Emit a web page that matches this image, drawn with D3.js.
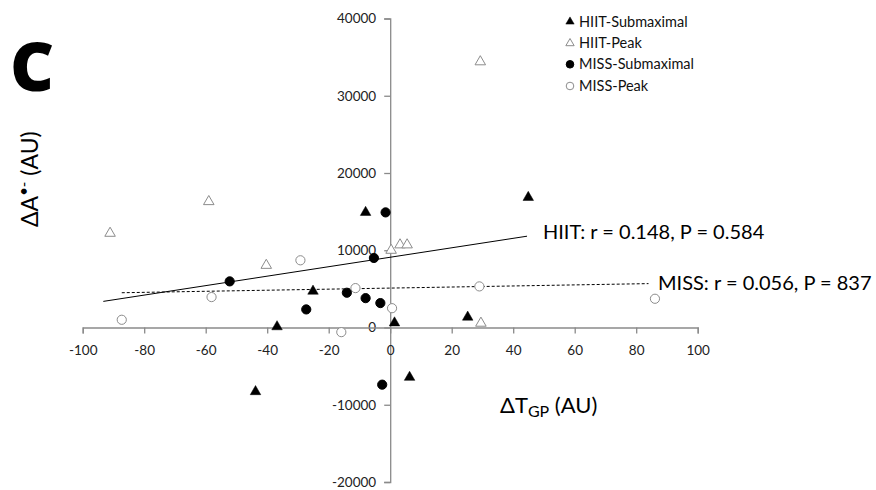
<!DOCTYPE html>
<html lang="en">
<head>
<meta charset="UTF-8">
<title>Delta A vs Delta TGP</title>
<script src="https://d3js.org/d3.v7.min.js"></script>
<style>
    body { margin: 0; background: #fff; }
    text { font-family: Lato, "Open Sans", sans-serif; }
</style>
</head>
<body>
<div id="chart"></div>
<script>
    // values: [ΔTGP, ΔA]
    const hiitSub = [[-43.8, -8300], [-36.8, 100], [-25.1, 4700], [-8, 14900],
                     [1.4, 600], [6.3, -6450], [25.2, 1340], [44.9, 16840]];
    const hiitPeak = [[-91.1, 12200], [-59, 16300], [-40.3, 8050], [0.3, 10000],
                      [3.2, 10700], [5.5, 10700], [29.5, 560], [29.3, 34400]];
    const missSub = [[-52.2, 5970], [-27.3, 2340], [-14.1, 4500], [-8, 3800],
                     [-5.3, 9000], [-3.2, 3160], [-1.5, 14900], [-2.6, -7400]];
    const missPeak = [[-87.3, 1000], [-58.1, 3940], [-29.2, 8700], [-15.9, -600],
                      [-11.3, 5100], [0.6, 2500], [29, 5320], [86.1, 3720]];

    // trend line end points
    const hiitFit = [[-93.3, 3380], [44.5, 11820]];
    const missFit = [[-87.3, 4500], [84, 5680]];

    const xTicks = [-100, -80, -60, -40, -20, 0, 20, 40, 60, 80, 100];
    const yTicks = [-20000, -10000, 0, 10000, 20000, 30000, 40000];

    const legendNames = ["HIIT-Submaximal", "HIIT-Peak", "MISS-Submaximal", "MISS-Peak"];

    const width = 876, height = 490;
    const svg = d3.select("#chart").append("svg")
        .attr("width", width)
        .attr("height", height);

    const x = d3.scaleLinear().domain([-100, 100]).range([82.7, 697.7]);
    const y = d3.scaleLinear().domain([-20000, 40000]).range([482, 18.5]);

    const axisColor = "#8a8a8a";
    const plain = d => String(d);   // plain hyphen minus, like the original

    // y axis at x = 0
    const yAxis = svg.append("g")
        .attr("transform", `translate(${x(0)},0)`)
        .call(d3.axisLeft(y).tickValues(yTicks).tickSize(6).tickPadding(8).tickFormat(plain));
    yAxis.select(".domain").attr("stroke", axisColor).attr("stroke-width", 1.3);
    yAxis.selectAll(".tick line").attr("stroke", axisColor).attr("stroke-width", 1.3);
    yAxis.selectAll(".tick text").attr("font-size", 13.5).attr("fill", "#222")
        .style("font-family", "Lato, sans-serif");

    // x axis at y = 0
    const xAxis = svg.append("g")
        .attr("transform", `translate(0,${y(0)})`)
        .call(d3.axisBottom(x).tickValues(xTicks).tickSize(6).tickPadding(12).tickFormat(plain));
    xAxis.select(".domain").attr("stroke", axisColor).attr("stroke-width", 1.3);
    xAxis.selectAll(".tick line").attr("stroke", axisColor).attr("stroke-width", 1.3);
    xAxis.selectAll(".tick text").attr("font-size", 13.5).attr("fill", "#222")
        .style("font-family", "Lato, sans-serif");

    // trend lines
    const line = d3.line().x(d => x(d[0])).y(d => y(d[1]));
    svg.append("path").datum(hiitFit)
        .attr("d", line).attr("fill", "none")
        .attr("stroke", "#000").attr("stroke-width", 1);
    svg.append("path").datum(missFit)
        .attr("d", line).attr("fill", "none")
        .attr("stroke", "#000").attr("stroke-width", 1)
        .attr("stroke-dasharray", "3,2");

    const tri = d3.symbol().type(d3.symbolTriangle).size(48);
    const openGrey = "#8c8c8c";

    function drawTriangles(data, filled) {
        svg.append("g").selectAll("path")
            .data(data)
            .join("path")
            .attr("d", tri)
            .attr("transform", d => `translate(${x(d[0])},${y(d[1])})`)
            .attr("fill", filled ? "#000" : "#fff")
            .attr("stroke", filled ? "#000" : openGrey)
            .attr("stroke-width", filled ? 0.5 : 1);
    }

    function drawCircles(data, filled) {
        svg.append("g").selectAll("circle")
            .data(data)
            .join("circle")
            .attr("cx", d => x(d[0]))
            .attr("cy", d => y(d[1]))
            .attr("r", 4.6)
            .attr("fill", filled ? "#000" : "#fff")
            .attr("stroke", filled ? "#000" : openGrey)
            .attr("stroke-width", 1);
    }

    drawTriangles(hiitPeak, false);
    drawCircles(missPeak, false);
    drawTriangles(hiitSub, true);
    drawCircles(missSub, true);

    // fit labels
    svg.append("text")
        .attr("x", 543).attr("y", 239)
        .attr("font-size", 20).attr("fill", "#000")
        .text("HIIT: r = 0.148, P = 0.584");
    svg.append("text")
        .attr("x", 658).attr("y", 290)
        .attr("font-size", 20).attr("fill", "#000")
        .text("MISS: r = 0.056, P = 837");

    // legend
    const legend = svg.append("g").attr("transform", "translate(570,0)");
    const legendY = [21.7, 43.3, 64.3, 86];
    legendNames.forEach((name, i) => {
        const g = legend.append("g").attr("transform", `translate(0,${legendY[i]})`);
        if (i < 2) {
            g.append("path")
                .attr("d", d3.symbol().type(d3.symbolTriangle).size(30))
                .attr("fill", i === 0 ? "#000" : "#fff")
                .attr("stroke", i === 0 ? "#000" : openGrey)
                .attr("stroke-width", i === 0 ? 0.5 : 1);
        } else {
            g.append("circle")
                .attr("r", 3.8)
                .attr("fill", i === 2 ? "#000" : "#fff")
                .attr("stroke", i === 2 ? "#000" : openGrey)
                .attr("stroke-width", 1);
        }
        g.append("text")
            .attr("x", 9).attr("dy", "0.35em")
            .attr("font-size", 14.5).attr("fill", "#111")
            .text(name);
    });

    // panel letter
    svg.append("text")
        .attr("x", 10).attr("y", 91)
        .attr("font-size", 68).attr("font-weight", 900)
        .style("font-family", "\"Open Sans\", sans-serif")
        .text("C");

    // axis titles
    const xTitle = svg.append("text")
        .attr("x", 500).attr("y", 413)
        .attr("font-size", 22).attr("fill", "#000");
    xTitle.append("tspan").text("\u0394T");
    xTitle.append("tspan").attr("font-size", 16).attr("dy", 4).text("GP");
    xTitle.append("tspan").attr("dy", -4).text(" (AU)");

    const yTitle = svg.append("text")
        .attr("transform", "translate(38,227) rotate(-90)")
        .attr("font-size", 23).attr("fill", "#000");
    yTitle.append("tspan").text("\u0394A");
    yTitle.append("tspan").attr("font-size", 15).attr("dy", -9).text("\u2022-");
    yTitle.append("tspan").attr("dy", 9).text(" (AU)");
</script>
</body>
</html>
